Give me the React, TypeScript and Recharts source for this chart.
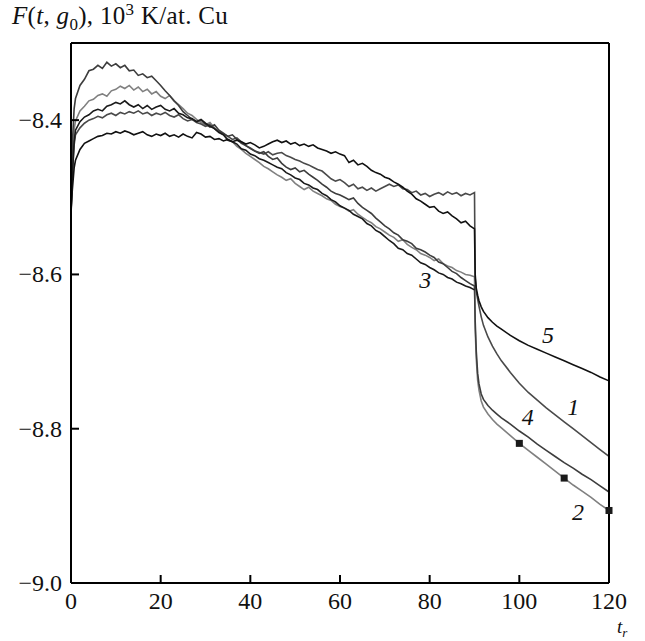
import React from 'react';
import { LineChart, Line, XAxis, YAxis, ReferenceDot } from 'recharts';

// time points of the noisy part (t_r from 0 to 90)
const tPre = [
  0, 0.3, 0.7,
  1, 2, 3, 4, 5, 6, 7, 8, 9, 10,
  11, 12, 13, 14, 15, 16, 17, 18, 19, 20,
  21, 22, 23, 24, 25, 26, 27, 28, 29, 30,
  31, 32, 33, 34, 35, 36, 37, 38, 39, 40,
  41, 42, 43, 44, 45, 46, 47, 48, 49, 50,
  51, 52, 53, 54, 55, 56, 57, 58, 59, 60,
  61, 62, 63, 64, 65, 66, 67, 68, 69, 70,
  71, 72, 73, 74, 75, 76, 77, 78, 79, 80,
  81, 82, 83, 84, 85, 86, 87, 88, 89, 90,
];

// time points after the switch at t_r = 90
const tPost = [90.15, 90.4, 90.7, 91, 91.5, 92, 93, 94, 95, 96, 98, 100, 102, 104, 106, 108, 110, 112, 114, 116, 118, 120];

// curve 1
const c1Pre = [
  -8.520, -8.470, -8.432,
  -8.419, -8.410, -8.404, -8.400, -8.398, -8.395, -8.397, -8.393, -8.391, -8.394,
  -8.390, -8.392, -8.389, -8.391, -8.388, -8.392, -8.390, -8.394, -8.391, -8.393,
  -8.390, -8.394, -8.396, -8.393, -8.398, -8.401, -8.399, -8.403, -8.405, -8.408,
  -8.406, -8.411, -8.415, -8.418, -8.421, -8.425, -8.423, -8.428, -8.433, -8.436,
  -8.440, -8.442, -8.444, -8.441, -8.445, -8.443, -8.442, -8.446, -8.448, -8.451,
  -8.453, -8.456, -8.458, -8.461, -8.464, -8.466, -8.471, -8.476, -8.479, -8.477,
  -8.481, -8.486, -8.483, -8.489, -8.487, -8.491, -8.488, -8.492, -8.489, -8.486,
  -8.483, -8.486, -8.484, -8.489, -8.490, -8.494, -8.492, -8.497, -8.495, -8.499,
  -8.496, -8.494, -8.497, -8.493, -8.496, -8.494, -8.498, -8.495, -8.497, -8.494,
];
const c1Post = [-8.605, -8.622, -8.632, -8.641, -8.655, -8.666, -8.681, -8.693, -8.703, -8.712, -8.727, -8.741, -8.753, -8.763, -8.773, -8.782, -8.791, -8.800, -8.809, -8.818, -8.827, -8.836];

// curve 2
const c2Pre = [
  -8.520, -8.452, -8.412,
  -8.401, -8.388, -8.382, -8.375, -8.373, -8.368, -8.366, -8.369, -8.362, -8.360,
  -8.356, -8.359, -8.355, -8.361, -8.357, -8.363, -8.360, -8.366, -8.363, -8.369,
  -8.372, -8.368, -8.375, -8.380, -8.385, -8.391, -8.394, -8.399, -8.403, -8.406,
  -8.403, -8.410, -8.415, -8.419, -8.425, -8.428, -8.434, -8.438, -8.443, -8.447,
  -8.451, -8.455, -8.460, -8.463, -8.467, -8.471, -8.474, -8.478, -8.476, -8.482,
  -8.486, -8.490, -8.487, -8.492, -8.495, -8.498, -8.502, -8.504, -8.509, -8.512,
  -8.514, -8.518, -8.516, -8.522, -8.526, -8.530, -8.533, -8.538, -8.541, -8.545,
  -8.549, -8.552, -8.557, -8.555, -8.561, -8.565, -8.568, -8.573, -8.575, -8.578,
  -8.582, -8.580, -8.586, -8.589, -8.591, -8.595, -8.597, -8.600, -8.601, -8.603,
];
const c2Post = [-8.670, -8.710, -8.737, -8.750, -8.764, -8.772, -8.781, -8.788, -8.794, -8.799, -8.809, -8.819, -8.828, -8.837, -8.846, -8.855, -8.864, -8.873, -8.881, -8.889, -8.898, -8.906];
const c2Marks = [100, 110, 120];

// curve 3 (stops at 90)
const c3Pre = [
  -8.520, -8.472, -8.428,
  -8.413, -8.402, -8.396, -8.393, -8.388, -8.386, -8.388, -8.382, -8.380, -8.377,
  -8.379, -8.375, -8.380, -8.383, -8.380, -8.385, -8.381, -8.386, -8.383, -8.381,
  -8.386, -8.388, -8.385, -8.391, -8.393, -8.397, -8.398, -8.402, -8.399, -8.404,
  -8.408, -8.411, -8.416, -8.419, -8.426, -8.428, -8.431, -8.437, -8.439, -8.444,
  -8.446, -8.450, -8.452, -8.455, -8.458, -8.461, -8.463, -8.468, -8.471, -8.475,
  -8.477, -8.482, -8.484, -8.488, -8.490, -8.495, -8.498, -8.503, -8.506, -8.511,
  -8.514, -8.517, -8.522, -8.525, -8.528, -8.534, -8.537, -8.543, -8.546, -8.551,
  -8.556, -8.560, -8.566, -8.568, -8.573, -8.575, -8.580, -8.585, -8.587, -8.591,
  -8.594, -8.598, -8.600, -8.604, -8.606, -8.610, -8.612, -8.615, -8.617, -8.620,
];

// curve 4
const c4Pre = [
  -8.520, -8.430, -8.385,
  -8.372, -8.355, -8.347, -8.336, -8.334, -8.329, -8.333, -8.325, -8.330, -8.327,
  -8.332, -8.329, -8.336, -8.335, -8.342, -8.340, -8.345, -8.343, -8.349, -8.355,
  -8.362, -8.368, -8.375, -8.381, -8.389, -8.394, -8.399, -8.402, -8.400, -8.405,
  -8.409, -8.406, -8.413, -8.417, -8.421, -8.419, -8.425, -8.430, -8.433, -8.437,
  -8.440, -8.443, -8.441, -8.447, -8.451, -8.449, -8.456, -8.461, -8.464, -8.462,
  -8.467, -8.465, -8.470, -8.474, -8.478, -8.483, -8.487, -8.492, -8.495, -8.497,
  -8.500, -8.503, -8.501, -8.508, -8.513, -8.517, -8.521, -8.527, -8.532, -8.537,
  -8.541, -8.546, -8.549, -8.555, -8.557, -8.560, -8.566, -8.568, -8.571, -8.575,
  -8.578, -8.584, -8.586, -8.591, -8.596, -8.599, -8.604, -8.608, -8.612, -8.615,
];
const c4Post = [-8.660, -8.700, -8.728, -8.742, -8.755, -8.762, -8.770, -8.776, -8.781, -8.786, -8.794, -8.803, -8.811, -8.820, -8.828, -8.836, -8.844, -8.851, -8.859, -8.866, -8.874, -8.882];

// curve 5
const c5Pre = [
  -8.520, -8.490, -8.462,
  -8.452, -8.438, -8.430, -8.427, -8.424, -8.421, -8.420, -8.417, -8.418, -8.415,
  -8.417, -8.414, -8.416, -8.419, -8.417, -8.415, -8.419, -8.421, -8.418, -8.420,
  -8.417, -8.421, -8.419, -8.422, -8.418, -8.421, -8.423, -8.416, -8.418, -8.422,
  -8.421, -8.425, -8.424, -8.427, -8.425, -8.428, -8.426, -8.428, -8.431, -8.429,
  -8.432, -8.436, -8.434, -8.431, -8.428, -8.426, -8.429, -8.427, -8.431, -8.429,
  -8.433, -8.431, -8.434, -8.432, -8.436, -8.438, -8.440, -8.443, -8.441, -8.444,
  -8.446, -8.455, -8.452, -8.458, -8.456, -8.460, -8.465, -8.468, -8.470, -8.474,
  -8.476, -8.480, -8.483, -8.487, -8.492, -8.496, -8.502, -8.505, -8.509, -8.513,
  -8.512, -8.518, -8.521, -8.519, -8.524, -8.528, -8.533, -8.531, -8.537, -8.541,
];
const c5Post = [-8.600, -8.618, -8.627, -8.634, -8.642, -8.648, -8.656, -8.662, -8.667, -8.671, -8.679, -8.686, -8.692, -8.697, -8.702, -8.707, -8.712, -8.717, -8.722, -8.727, -8.733, -8.738];

const xTicks = [0, 20, 40, 60, 80, 100, 120];
const yTicks = [-9.0, -8.8, -8.6, -8.4];

// curve number labels: [text, t, F]
const curveLabels: [string, number, number][] = [
  ['3', 79, -8.607],
  ['5', 106.4, -8.679],
  ['1', 112, -8.772],
  ['4', 101.9, -8.785],
  ['2', 113.1, -8.908],
];

const toRows = (ts: number[], vs: number[]) => ts.map((t, i) => ({ t, v: vs[i] }));

const s1 = [...toRows(tPre, c1Pre), ...toRows(tPost, c1Post)];
const s2 = [...toRows(tPre, c2Pre), ...toRows(tPost, c2Post)];
const s3 = toRows(tPre, c3Pre);
const s4 = [...toRows(tPre, c4Pre), ...toRows(tPost, c4Post)];
const s5 = [...toRows(tPre, c5Pre), ...toRows(tPost, c5Post)];

const FONT = '"Liberation Serif", "Times New Roman", serif';
const fmt = (v: number) => (v < 0 ? '\u2212' : '') + Math.abs(v).toFixed(1);

const BottomTick = (props: any) => {
  const { x, y, payload } = props;
  return (
    <g>
      <line x1={x} y1={y} x2={x} y2={y - 8} stroke="#000" strokeWidth={2} />
      <text x={x} y={y + 26} textAnchor="middle" fontFamily={FONT} fontSize={24} fill="#111">
        {payload.value}
      </text>
    </g>
  );
};

const TopTick = (props: any) => {
  const { x, y } = props;
  return <line x1={x} y1={y} x2={x} y2={y + 8} stroke="#000" strokeWidth={2} />;
};

const LeftTick = (props: any) => {
  const { x, y, payload } = props;
  return (
    <g>
      <line x1={x} y1={y} x2={x + 8} y2={y} stroke="#000" strokeWidth={2} />
      <text x={x - 9} y={y + 8} textAnchor="end" fontFamily={FONT} fontSize={24} fill="#111">
        {fmt(payload.value)}
      </text>
    </g>
  );
};

const RightTick = (props: any) => {
  const { x, y } = props;
  return <line x1={x} y1={y} x2={x - 8} y2={y} stroke="#000" strokeWidth={2} />;
};

const SquareDot = (props: any) => {
  const { cx, cy, payload } = props;
  if (!c2Marks.includes(payload.t)) return <g key={`d${payload.t}`} />;
  return <rect key={`d${payload.t}`} x={cx - 3.5} y={cy - 3.5} width={7} height={7} fill="#1a1a1a" />;
};

const App: React.FC = () => {
  return (
    <div style={{ position: 'absolute', left: 0, top: 0, width: 645, height: 641, background: '#fff' }}>
      <div
        style={{
          position: 'absolute',
          left: 12,
          top: 0,
          fontFamily: FONT,
          fontSize: 25,
          letterSpacing: 0.3,
          color: '#111',
          whiteSpace: 'nowrap',
        }}
      >
        <i>F</i>(<i>t</i>, <i>g</i>
        <sub style={{ fontSize: 17 }}>0</sub>), 10<sup style={{ fontSize: 17 }}>3</sup> K/at. Cu
      </div>
      <div
        style={{
          position: 'absolute',
          left: 617,
          top: 617,
          fontFamily: FONT,
          fontSize: 19,
          lineHeight: '19px',
          fontStyle: 'italic',
          color: '#111',
          whiteSpace: 'nowrap',
        }}
      >
        t<span style={{ fontSize: 13, verticalAlign: '-4px' }}>r</span>
      </div>

      <LineChart width={645} height={641} margin={{ top: 42, right: 35, bottom: 28, left: 11 }}>
        <XAxis
          dataKey="t"
          type="number"
          domain={[0, 120]}
          ticks={xTicks}
          interval={0}
          height={30}
          tickSize={0}
          tickMargin={0}
          axisLine={{ stroke: '#000', strokeWidth: 2 }}
          tick={<BottomTick />}
        />
        <XAxis
          xAxisId="top"
          orientation="top"
          dataKey="t"
          type="number"
          domain={[0, 120]}
          ticks={[20, 40, 60, 80, 100]}
          interval={0}
          height={1}
          tickSize={0}
          tickMargin={0}
          axisLine={{ stroke: '#000', strokeWidth: 2 }}
          tick={<TopTick />}
        />
        <YAxis
          type="number"
          domain={[-9.0, -8.3]}
          ticks={yTicks}
          interval={0}
          width={60}
          tickSize={0}
          tickMargin={0}
          axisLine={{ stroke: '#000', strokeWidth: 2 }}
          tick={<LeftTick />}
        />
        <YAxis
          yAxisId="right"
          orientation="right"
          type="number"
          domain={[-9.0, -8.3]}
          ticks={[-8.8, -8.6, -8.4]}
          interval={0}
          width={1}
          tickSize={0}
          tickMargin={0}
          axisLine={{ stroke: '#000', strokeWidth: 2 }}
          tick={<RightTick />}
        />

        <Line data={s2} dataKey="v" type="linear" stroke="#808080" strokeWidth={1.6} dot={<SquareDot />} isAnimationActive={false} />
        <Line data={s1} dataKey="v" type="linear" stroke="#4a4a4a" strokeWidth={1.6} dot={false} isAnimationActive={false} />
        <Line data={s4} dataKey="v" type="linear" stroke="#3d3d3d" strokeWidth={1.6} dot={false} isAnimationActive={false} />
        <Line data={s3} dataKey="v" type="linear" stroke="#1a1a1a" strokeWidth={1.6} dot={false} isAnimationActive={false} />
        <Line data={s5} dataKey="v" type="linear" stroke="#111" strokeWidth={1.6} dot={false} isAnimationActive={false} />

        {curveLabels.map(([txt, t, v]) => (
          <ReferenceDot
            key={txt}
            x={t}
            y={v}
            r={0}
            shape={(p: any) => (
              <text
                x={p.cx}
                y={p.cy}
                textAnchor="middle"
                dominantBaseline="central"
                fontFamily={FONT}
                fontStyle="italic"
                fontSize={24}
                fill="#111"
              >
                {txt}
              </text>
            )}
          />
        ))}
      </LineChart>
    </div>
  );
};

export default App;
